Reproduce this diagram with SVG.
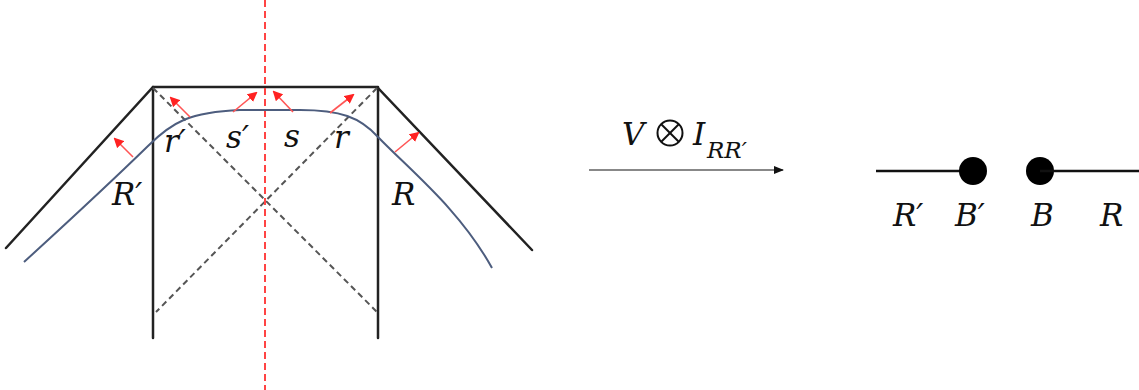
<svg xmlns="http://www.w3.org/2000/svg" width="1139" height="390" viewBox="0 0 1139 390">
<style>
.wall{stroke:#222;stroke-width:2.5;fill:none;stroke-linecap:round}
.dash{stroke:#555;stroke-width:2;fill:none;stroke-dasharray:6 4}
.axis{stroke:#f44;stroke-width:2;fill:none;stroke-dasharray:7 4}
.curve{stroke:#4d5d7e;stroke-width:2;fill:none}
.ra{stroke:#f55;stroke-width:1.6;fill:none;marker-end:url(#rh)}
.lbl{font-family:"DejaVu Serif","Liberation Serif",serif;font-style:italic;font-size:31px;fill:#111}
.sub{font-family:"DejaVu Serif","Liberation Serif",serif;font-style:italic;font-size:23px;fill:#111}
</style>
<defs>
<marker id="rh" markerWidth="10" markerHeight="10" refX="8" refY="5" orient="auto" markerUnits="userSpaceOnUse">
<path d="M0,0 L10,5 L0,10 z" fill="#f22"/>
</marker>
<marker id="bh" markerWidth="10" markerHeight="10" refX="9" refY="5" orient="auto" markerUnits="userSpaceOnUse">
<path d="M0,1 L10,5 L0,9 z" fill="#111"/>
</marker>
</defs>
<g id="geometry">
<path class="wall" d="M6,248 L153,87 L377,87 L532,250"/>
<line class="wall" x1="153" y1="87" x2="153" y2="338"/>
<line class="wall" x1="378" y1="87" x2="378" y2="338"/>
<line class="dash" x1="153" y1="88" x2="378" y2="313"/>
<line class="dash" x1="377" y1="88" x2="156" y2="312"/>
<line class="axis" x1="265" y1="0" x2="265" y2="390"/>
<path class="curve" d="M24,262 C70,220 110,183 148,146 C172,122 190,112 240,110 L300,110 C340,110 360,117 378,137 C412,172 460,210 492,268"/>
</g>
<g id="normals">
<line class="ra" x1="133" y1="157" x2="115" y2="139"/>
<line class="ra" x1="190" y1="117" x2="171" y2="98"/>
<line class="ra" x1="233" y1="112" x2="256" y2="93"/>
<line class="ra" x1="293" y1="112" x2="274" y2="92"/>
<line class="ra" x1="330" y1="113" x2="353" y2="95"/>
<line class="ra" x1="395" y1="152" x2="418" y2="133"/>
</g>
<g id="labels-left">
<text class="lbl" x="112" y="205">R′</text>
<text class="lbl" x="164" y="152">r′</text>
<text class="lbl" x="226" y="148">s′</text>
<text class="lbl" x="284" y="147">s</text>
<text class="lbl" x="334" y="148">r</text>
<text class="lbl" x="392" y="205">R</text>
</g>
<g id="connectors">
<line x1="589" y1="170" x2="783" y2="170" stroke="#888" stroke-width="2" marker-end="url(#bh)"/>
</g>
<g id="map-label">
<text class="lbl" x="622" y="145">V</text>
<circle cx="670" cy="133" r="12.5" fill="none" stroke="#111" stroke-width="2"/>
<line x1="661" y1="124" x2="679" y2="142" stroke="#111" stroke-width="2"/>
<line x1="679" y1="124" x2="661" y2="142" stroke="#111" stroke-width="2"/>
<text class="lbl" x="693" y="145">I</text>
<text class="sub" x="707" y="158">RR′</text>
</g>
<g id="node-Rp">
<line x1="876" y1="171" x2="973" y2="171" stroke="#111" stroke-width="2.5"/>
<text class="lbl" x="893" y="226">R′</text>
</g>
<g id="node-Bp">
<circle cx="973" cy="171" r="14" fill="#000"/>
<text class="lbl" x="955" y="226">B′</text>
</g>
<g id="node-B">
<circle cx="1040" cy="171" r="14" fill="#000"/>
<text class="lbl" x="1031" y="226">B</text>
</g>
<g id="node-R">
<line x1="1040" y1="171" x2="1139" y2="171" stroke="#111" stroke-width="2.5"/>
<text class="lbl" x="1100" y="226">R</text>
</g>
</svg>
